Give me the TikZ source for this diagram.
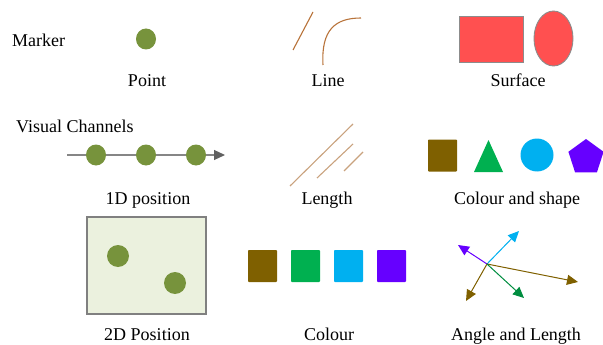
\documentclass[tikz,border=0pt]{standalone}
\usepackage{fontspec}
\setmainfont{Liberation Serif}
\usetikzlibrary{arrows.meta,shapes.geometric}

\definecolor{ptgreen}{HTML}{77933C}
\definecolor{linebrown}{HTML}{B8733A}
\definecolor{lentan}{HTML}{C9A27E}
\definecolor{surfred}{HTML}{FF5050}
\definecolor{edgegray}{HTML}{8C8C8C}
\definecolor{cbrown}{HTML}{7F6000}
\definecolor{cgreen}{HTML}{00B050}
\definecolor{ccyan}{HTML}{00B0F0}
\definecolor{cviolet}{HTML}{6600FF}
\definecolor{panel}{HTML}{EBF1DE}

\begin{document}
\begin{tikzpicture}[x=1pt,y=-1pt,
  lbl/.style={anchor=base,inner sep=0pt,font=\fontsize{18}{20}\selectfont},
  head/.style={anchor=base west,inner sep=0pt,font=\fontsize{18}{20}\selectfont},
  dot/.style={ellipse,fill=ptgreen,minimum width=20pt,minimum height=21pt,inner sep=0pt},
  swatch/.style={rectangle,minimum width=29pt,minimum height=32pt,inner sep=0pt,rounded corners=0.8pt},
  vec/.style={line width=1pt,-{Triangle[length=11pt,width=10pt]}},
]
\useasboundingbox (0,0) rectangle (603,345);

% ---------- headings ----------
\node[head] (hMarker) at (12,46.5) {Marker};
\node[head] (hChannels) at (16,132) {Visual Channels};

% ---------- row 1: markers ----------
\node[dot] (pt) at (146,39) {};
\node[lbl] (lPoint) at (147,87) {Point};

\coordinate (s0) at (293,50);
\coordinate (s1) at (313,12);
\draw[linebrown,line width=1.1pt] (s0) -- (s1);
\coordinate (c0) at (323,65);
\coordinate (c1) at (361,18);
\draw[linebrown,line width=1.1pt] (c0) .. controls (321,30) and (335,18) .. (c1);
\node[lbl] (lLine) at (328,87) {Line};

\node[rectangle,draw=edgegray,line width=0.9pt,fill=surfred,minimum width=64pt,minimum height=46pt,inner sep=0pt] (srect) at (491,39) {};
\node[ellipse,draw=edgegray,line width=0.9pt,fill=surfred,minimum width=39pt,minimum height=55pt,inner sep=0pt] (sell) at (553.5,38.5) {};
\node[lbl] (lSurface) at (518,87) {Surface};

% ---------- row 2: channels ----------
\coordinate (a0) at (67,155);
\coordinate (a1) at (225,155);
\draw[color=gray!95,line width=1.1pt,-{Triangle[length=11pt,width=10pt,color=black!62]}] (a0) -- (a1);
\node[dot] (d1) at (96,155) {};
\node[dot] (d2) at (146,155) {};
\node[dot] (d3) at (196,155) {};
\node[lbl] (l1D) at (148,204) {1D position};

\coordinate (p1a) at (290,186);
\coordinate (p1b) at (353,124);
\coordinate (p2a) at (317,178);
\coordinate (p2b) at (353,144);
\coordinate (p3a) at (344,171);
\coordinate (p3b) at (363,152);
\draw[lentan,line width=1.1pt] (p1a) -- (p1b);
\draw[lentan,line width=1.1pt] (p2a) -- (p2b);
\draw[lentan,line width=1.1pt] (p3a) -- (p3b);
\node[lbl] (lLength) at (327,204) {Length};

\node[swatch,fill=cbrown] (shSq) at (442.5,155.5) {};
\fill[cgreen] (474,172) -- (488.5,140) -- (503,172) -- cycle;
\node[circle,fill=ccyan,minimum size=33pt,inner sep=0pt] (shCirc) at (537,155) {};
\node[regular polygon,regular polygon sides=5,fill=cviolet,minimum size=37pt,inner sep=0pt] (shPent) at (586,157.5) {};
\node[lbl] (lShape) at (517,204) {Colour and shape};

% ---------- row 3 ----------
\node[rectangle,draw=gray,line width=1.2pt,fill=panel,minimum width=119pt,minimum height=97pt,inner sep=0pt] (plane) at (146.5,265.5) {};
\node[dot,minimum width=22pt,minimum height=22pt] (q1) at (118,256) {};
\node[dot,minimum width=22pt,minimum height=22pt] (q2) at (175,283) {};
\node[lbl] (l2D) at (147,340) {2D Position};

\node[swatch,fill=cbrown] (k1) at (262.5,266) {};
\node[swatch,fill=cgreen] (k2) at (305.5,266) {};
\node[swatch,fill=ccyan] (k3) at (348.5,266) {};
\node[swatch,fill=cviolet] (k4) at (391.5,266) {};
\node[lbl] (lColour) at (329,340) {Colour};

\coordinate (o) at (487,264);
\coordinate (eCyan) at (519,231);
\coordinate (eViolet) at (458,245);
\coordinate (eLong) at (578,282);
\coordinate (eDown) at (466,301);
\coordinate (eGreen) at (524,298);
\draw[vec,ccyan] (o) -- (eCyan);
\draw[vec,cviolet] (o) -- (eViolet);
\draw[vec,cbrown] (o) -- (eLong);
\draw[vec,cbrown] (o) -- (eDown);
\draw[vec,cgreen!80!black] (o) -- (eGreen);
\node[lbl] (lAngle) at (516,340) {Angle and Length};
\end{tikzpicture}
\end{document}
